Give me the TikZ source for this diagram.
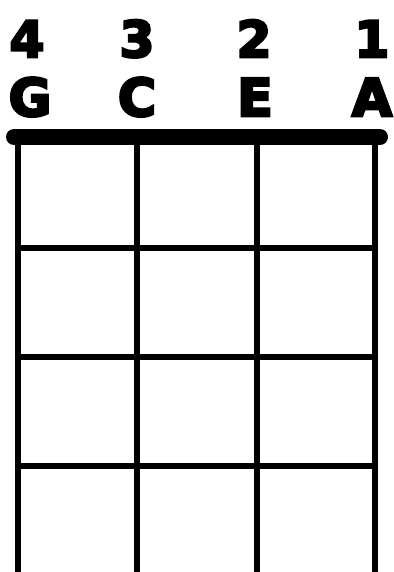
\documentclass[tikz,border=0pt]{standalone}
\usepackage{fontspec}
\newfontfamily\chordfont[FakeBold=5]{DejaVu Sans}
\usepackage{tikz}
\tikzstyle{num} = [font=\chordfont\bfseries\fontsize{50}{50}\selectfont, inner sep=0pt, anchor=base, text=black]
\tikzstyle{note} = [font=\chordfont\bfseries\fontsize{52}{52}\selectfont, inner sep=0pt, anchor=base, text=black]
\tikzstyle{nut} = [line width=16pt, line cap=round, black]
\tikzstyle{str} = [line width=6.5pt, black]
\tikzstyle{fret} = [line width=6pt, black]

\begin{document}
\begin{tikzpicture}[x=1pt, y=-1pt]
  \useasboundingbox (0,0) rectangle (393,572);
  % string numbers
  \node[num] (n4) at (27,57) {4};
  \node[num] (n3) at (137,57) {3};
  \node[num] (n2) at (254,57) {2};
  \node[num] (n1) at (372,57) {1};
  % tuning
  \node[note] (g) at (30,116) {G};
  \node[note] (c) at (137,116) {C};
  \node[note] (e) at (255,116) {E};
  \node[note] (a) at (372,116) {A};
  % strings
  \foreach \name/\x in {s4/18, s3/137, s2/257, s1/375} {
    \coordinate (\name) at (\x,137);
    \draw[str] (\name) -- (\x,572);
  }
  % frets
  \foreach \y in {248, 357, 466}
    \draw[fret] (18,\y) -- (375,\y);
  % nut
  \draw[nut] (14,137) -- (380,137);
\end{tikzpicture}
\end{document}
